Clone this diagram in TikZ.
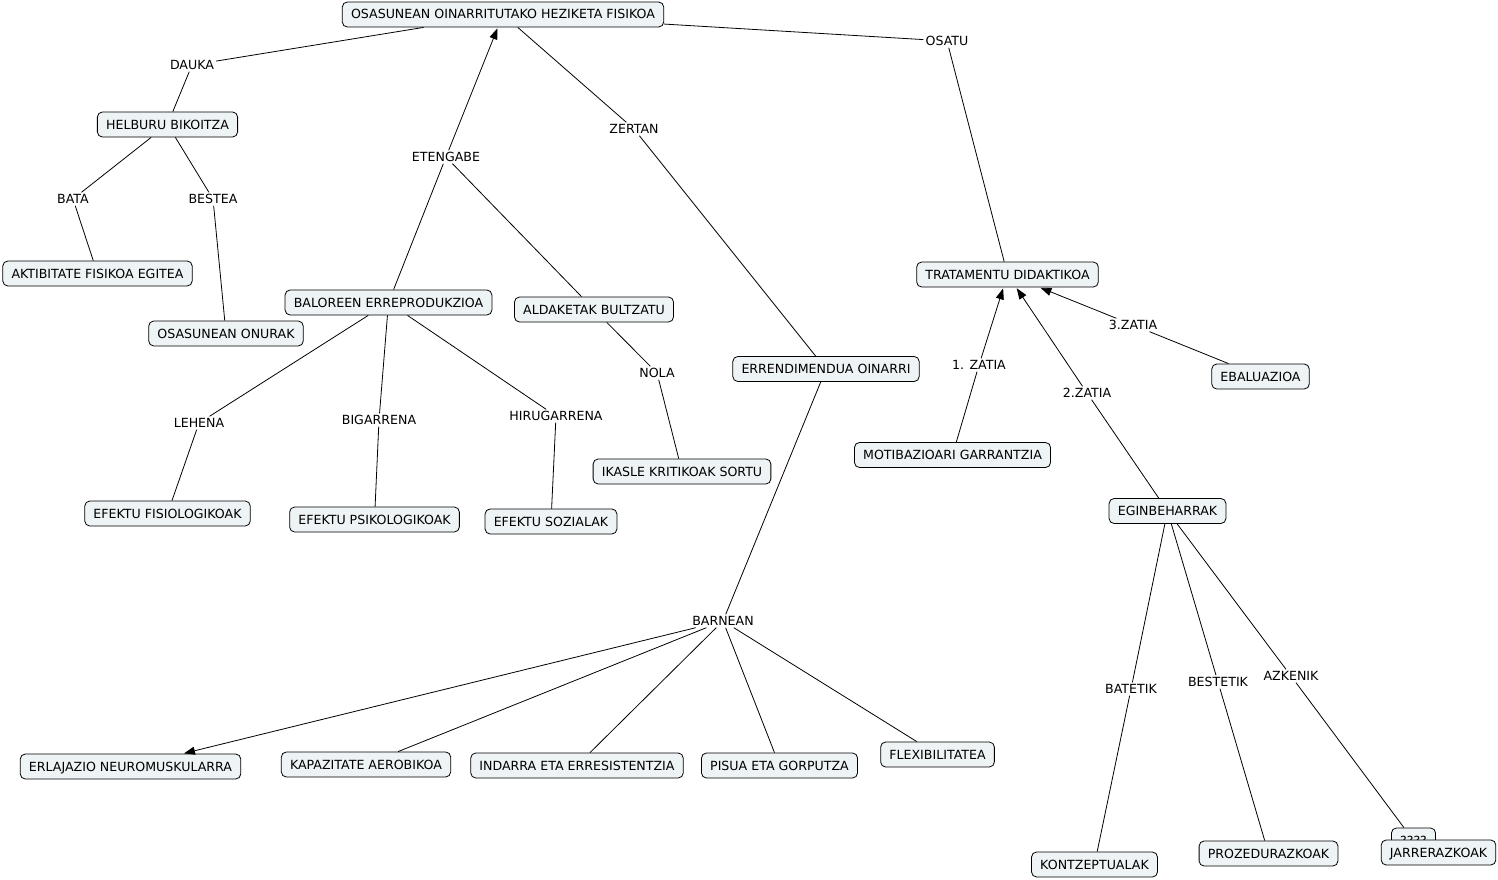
\documentclass[tikz,border=0pt]{standalone}
\usepackage{fontspec}
\setmainfont{DejaVu Sans}
\usetikzlibrary{arrows.meta}
\definecolor{boxfill}{HTML}{EEF3F5}
\begin{document}
\begin{tikzpicture}[x=1pt,y=-1pt,
 concept/.style={draw=black, line width=0.8pt, fill=boxfill, rounded corners=5pt,
   minimum height=25pt, inner xsep=8.7pt, inner ysep=2pt, text height=9pt, text depth=0pt,
   font=\fontsize{12.6}{14}\selectfont},
 lbl/.style={inner sep=2pt, text height=9pt, text depth=0pt, font=\fontsize{12.6}{14}\selectfont},
 link/.style={line width=0.8pt},
 arr/.style={link, -{Triangle[length=11pt,width=8pt]}, shorten >=1pt}]
\useasboundingbox (0,0) rectangle (1498,880);
\fill[white] (0,0) rectangle (1498,880);

% concepts
\node[concept] (root) at (503,14.5) {OSASUNEAN OINARRITUTAKO HEZIKETA FISIKOA};
\node[concept] (helburu) at (167.5,124.5) {HELBURU BIKOITZA};
\node[concept] (aktib) at (97.5,273.5) {AKTIBITATE FISIKOA EGITEA};
\node[concept] (onurak) at (226,333.5) {OSASUNEAN ONURAK};
\node[concept] (baloreen) at (388.5,302.5) {BALOREEN ERREPRODUKZIOA};
\node[concept] (aldaketak) at (594,309.5) {ALDAKETAK BULTZATU};
\node[concept] (errend) at (826,369) {ERRENDIMENDUA OINARRI};
\node[concept] (ikasle) at (682,471.5) {IKASLE KRITIKOAK SORTU};
\node[concept] (fisio) at (167.5,513.5) {EFEKTU FISIOLOGIKOAK};
\node[concept] (psiko) at (374.5,519.5) {EFEKTU PSIKOLOGIKOAK};
\node[concept] (sozial) at (551,521.5) {EFEKTU SOZIALAK};
\node[concept] (trat) at (1007.5,274.5) {TRATAMENTU DIDAKTIKOA};
\node[concept] (motib) at (952.5,455) {MOTIBAZIOARI GARRANTZIA};
\node[concept] (ebal) at (1260.5,376.5) {EBALUAZIOA};
\node[concept] (egin) at (1167.5,511) {EGINBEHARRAK};
\node[concept] (erlaj) at (130.5,766.5) {ERLAJAZIO NEUROMUSKULARRA};
\node[concept] (kapaz) at (366,764.5) {KAPAZITATE AEROBIKOA};
\node[concept] (indar) at (577,765.5) {INDARRA ETA ERRESISTENTZIA};
\node[concept] (pisua) at (779.5,765.5) {PISUA ETA GORPUTZA};
\node[concept] (flex) at (937.5,754.5) {FLEXIBILITATEA};
\node[concept] (kontz) at (1094.5,864.5) {KONTZEPTUALAK};
\node[concept] (proz) at (1268.5,853.5) {PROZEDURAZKOAK};
\node[concept] (galde) at (1413.5,840.5) {????};
\node[concept] (jarr) at (1438.5,852.5) {JARRERAZKOAK};

% linking phrases
\node[lbl] (dauka) at (192,65) {DAUKA};
\node[lbl] (bata) at (73,199) {BATA};
\node[lbl] (bestea) at (213,199) {BESTEA};
\node[lbl] (etengabe) at (446,157) {ETENGABE};
\node[lbl] (zertan) at (634,129) {ZERTAN};
\node[lbl] (osatu) at (947,41) {OSATU};
\node[lbl] (lehena) at (199,423) {LEHENA};
\node[lbl] (bigarrena) at (379,420) {BIGARRENA};
\node[lbl] (hirugarrena) at (556,416) {HIRUGARRENA};
\node[lbl] (nola) at (657,373) {NOLA};
\node[lbl] (barnean) at (723,621) {BARNEAN};
\node[lbl] (zatia1) at (979,365) {1. ZATIA};
\node[lbl] (zatia3) at (1133,325) {3.ZATIA};
\node[lbl] (zatia2) at (1087,393) {2.ZATIA};
\node[lbl] (batetik) at (1131,689) {BATETIK};
\node[lbl] (bestetik) at (1218,682) {BESTETIK};
\node[lbl] (azkenik) at (1291,676) {AZKENIK};

% connectors
\draw[link] (root) -- (dauka);
\draw[link] (dauka) -- (helburu);
\draw[link] (root) -- (osatu);
\draw[link] (osatu) -- (trat);
\draw[link] (root) -- (zertan);
\draw[link] (zertan) -- (errend);
\draw[link] (baloreen) -- (etengabe);
\draw[arr] (etengabe) -- (root);
\draw[link] (etengabe) -- (aldaketak);
\draw[link] (helburu) -- (bata);
\draw[link] (bata) -- (aktib);
\draw[link] (helburu) -- (bestea);
\draw[link] (bestea) -- (onurak);
\draw[link] (baloreen) -- (lehena);
\draw[link] (lehena) -- (fisio);
\draw[link] (baloreen) -- (bigarrena);
\draw[link] (bigarrena) -- (psiko);
\draw[link] (baloreen) -- (hirugarrena);
\draw[link] (hirugarrena) -- (sozial);
\draw[link] (aldaketak) -- (nola);
\draw[link] (nola) -- (ikasle);
\draw[link] (errend) -- (barnean);
\draw[arr] (barnean) -- (erlaj);
\draw[link] (barnean) -- (kapaz);
\draw[link] (barnean) -- (indar);
\draw[link] (barnean) -- (pisua);
\draw[link] (barnean) -- (flex);
\draw[link] (motib) -- (zatia1);
\draw[arr] (zatia1) -- (trat);
\draw[link] (egin) -- (zatia2);
\draw[arr] (zatia2) -- (trat);
\draw[link] (ebal) -- (zatia3);
\draw[arr] (zatia3) -- (trat);
\draw[link] (egin) -- (batetik);
\draw[link] (batetik) -- (kontz);
\draw[link] (egin) -- (bestetik);
\draw[link] (bestetik) -- (proz);
\draw[link] (egin) -- (azkenik);
\draw[link] (azkenik) -- (galde);
\end{tikzpicture}
\end{document}
